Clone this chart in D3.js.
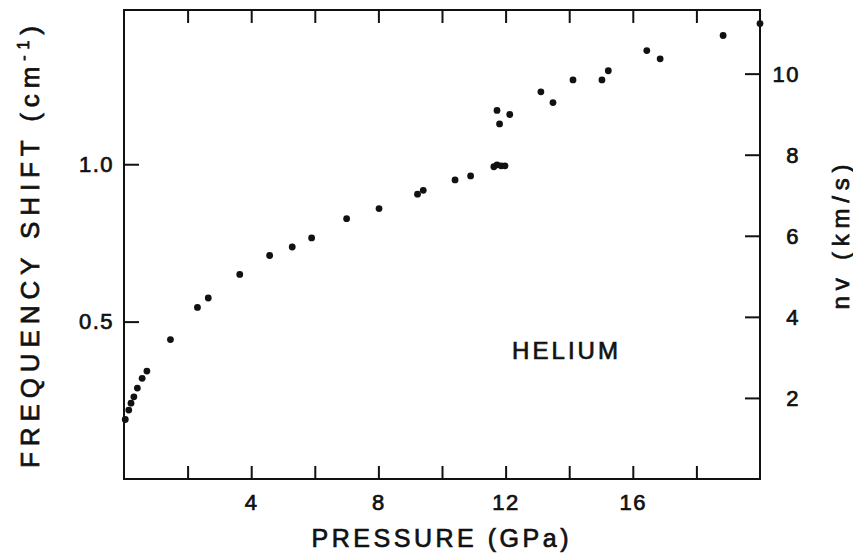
<!DOCTYPE html>
<html>
<head>
<meta charset="utf-8">
<script src="https://cdn.jsdelivr.net/npm/d3@7"></script>
<style>
  html, body { margin: 0; padding: 0; background: #fff; }
  svg { display: block; }
  text { font-family: "Liberation Sans", Arial, Helvetica, sans-serif; fill: #111;
         stroke: #111; stroke-width: 0.7px; }
</style>
</head>
<body>
<svg id="chart" width="853" height="554"></svg>
<script>
// Brillouin frequency shift of helium versus pressure
const pressure = [0.04, 0.15, 0.22, 0.31, 0.42, 0.57, 0.72, 1.46, 2.31, 2.65,
                  3.64, 4.58, 5.29, 5.90, 7.00, 8.02, 9.23, 9.41, 10.41, 10.90,
                  11.63, 11.73, 11.86, 11.98, 11.73, 11.81, 12.13, 13.11, 13.49, 14.12,
                  15.03, 15.23, 16.44, 16.86, 18.84, 20.0];
const shift    = [0.189, 0.219, 0.241, 0.261, 0.289, 0.320, 0.343, 0.443, 0.545, 0.575,
                  0.650, 0.710, 0.737, 0.766, 0.827, 0.859, 0.905, 0.917, 0.950, 0.963,
                  0.992, 0.998, 0.995, 0.995, 1.171, 1.128, 1.158, 1.230, 1.196, 1.268,
                  1.268, 1.297, 1.361, 1.335, 1.409, 1.447];

const xTicks = [2, 4, 6, 8, 10, 12, 14, 16, 18];
const xLabels = [4, 8, 12, 16];
const leftTicks = [0.5, 1.0];
const rightTicks = [2, 4, 6, 8, 10];

const svg = d3.select("#chart");
const L = 124, R = 760, T = 10, B = 479;

const x = d3.scaleLinear().domain([0, 20]).range([L, R]);
const yL = d3.scaleLinear().domain([0, 1.49]).range([B, T]);
const yR = d3.scaleLinear().domain([0, 11.57]).range([B, T]);

function styleAxis(g) {
  g.select(".domain").remove();
  g.selectAll(".tick line").attr("stroke", "#111").attr("stroke-width", 2);
  g.selectAll(".tick text").attr("font-size", 22).attr("fill", "#111")
    .style("letter-spacing", "1.5px");
}

// bottom axis: ticks every 2 GPa, labels every 4
svg.append("g").attr("transform", `translate(0,${B})`)
  .call(d3.axisBottom(x).tickValues(xTicks).tickSize(-13).tickPadding(15)
    .tickFormat(d => xLabels.includes(d) ? d : ""))
  .call(styleAxis);

// top axis: ticks only
svg.append("g").attr("transform", `translate(0,${T})`)
  .call(d3.axisTop(x).tickValues(xTicks).tickSize(-13).tickFormat(""))
  .call(styleAxis);

// left axis
svg.append("g").attr("transform", `translate(${L},0)`)
  .call(d3.axisLeft(yL).tickValues(leftTicks).tickSize(-15).tickPadding(10)
    .tickFormat(d3.format(".1f")))
  .call(styleAxis);

// right axis: tick marks from the axis, labels in a right-aligned column
svg.append("g").attr("transform", `translate(${R},0)`)
  .call(d3.axisRight(yR).tickValues(rightTicks).tickSize(-15).tickFormat(""))
  .call(styleAxis);
svg.append("g").selectAll("text")
  .data(rightTicks)
  .join("text")
  .attr("x", R + 40)
  .attr("y", d => yR(d))
  .attr("dy", "0.36em")
  .attr("text-anchor", "end")
  .attr("font-size", 22)
  .style("letter-spacing", "1.5px")
  .text(d => d);

// frame
svg.append("rect")
  .attr("x", L).attr("y", T).attr("width", R - L).attr("height", B - T)
  .attr("fill", "none").attr("stroke", "#111").attr("stroke-width", 2);

// data points
svg.append("g").selectAll("circle")
  .data(pressure.map((p, i) => [p, shift[i]]))
  .join("circle")
  .attr("cx", d => x(d[0]))
  .attr("cy", d => yL(d[1]))
  .attr("r", 3.4)
  .attr("fill", "#111");

// axis titles
svg.append("text")
  .attr("x", 440).attr("y", 547)
  .attr("text-anchor", "middle")
  .attr("font-size", 25)
  .attr("textLength", 257).attr("lengthAdjust", "spacing")
  .text("PRESSURE (GPa)");

const yt = svg.append("text")
  .attr("transform", "translate(39,247) rotate(-90)")
  .attr("text-anchor", "middle")
  .attr("font-size", 26)
  .attr("textLength", 442).attr("lengthAdjust", "spacing");
yt.append("tspan").text("FREQUENCY SHIFT (cm");
yt.append("tspan").attr("font-size", 16).attr("dy", -10).text("-1");
yt.append("tspan").attr("dy", 10).text(")");

svg.append("text")
  .attr("transform", "translate(849,237) rotate(-90)")
  .attr("text-anchor", "middle")
  .attr("font-size", 24)
  .attr("textLength", 145).attr("lengthAdjust", "spacing")
  .text("nv (km/s)");

svg.append("text")
  .attr("x", 512).attr("y", 359)
  .attr("font-size", 24)
  .attr("textLength", 106).attr("lengthAdjust", "spacing")
  .text("HELIUM");
</script>
</body>
</html>
